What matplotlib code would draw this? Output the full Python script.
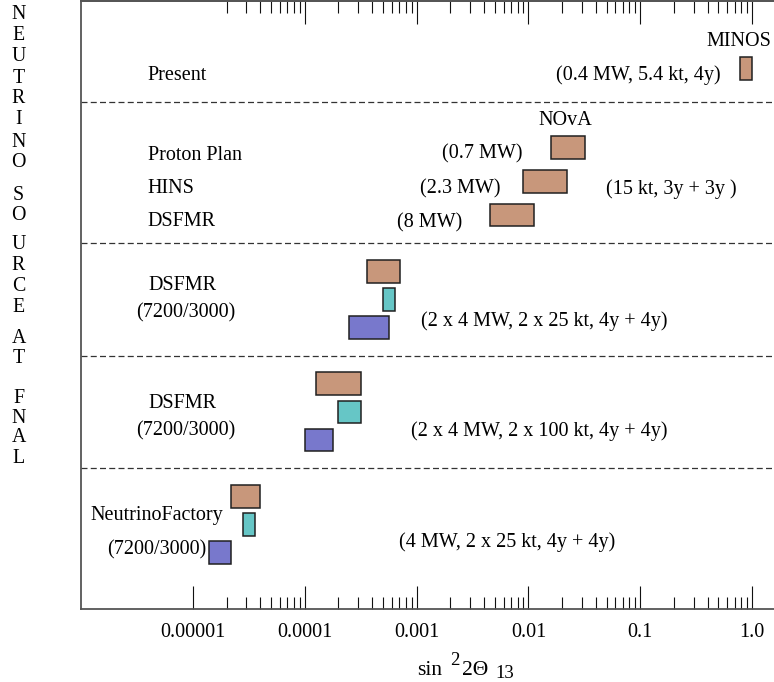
import matplotlib
matplotlib.use("Agg")
import matplotlib.pyplot as plt
from matplotlib.ticker import NullFormatter

plt.rcParams['font.family'] = ['Liberation Serif', 'DejaVu Serif']

# ---------------- data ----------------
# sin^2 2theta13 sensitivity ranges (low, high) for each box
box_low = [0.78, 0.016, 0.009, 0.0045,
           3.6e-4, 5.0e-4, 2.5e-4,
           1.26e-4, 2.0e-4, 1.0e-4,
           2.2e-5, 2.8e-5, 1.4e-5]
box_high = [1.0, 0.032, 0.022, 0.0113,
            7.1e-4, 6.4e-4, 5.7e-4,
            3.2e-4, 3.2e-4, 1.8e-4,
            4.0e-5, 3.6e-5, 2.2e-5]
box_kind = ['b', 'b', 'b', 'b',
            'b', 'c', 'p',
            'b', 'c', 'p',
            'b', 'c', 'p']
tick_values = [1e-5, 1e-4, 1e-3, 1e-2, 1e-1, 1.0]
tick_labels = ['0.00001', '0.0001', '0.001', '0.01', '0.1', '1.0']
side_letters = list("NEUTRINOSOURCEATFNAL")

# ---------------- layout / style ----------------
W, H = 774, 682
row_y = [67.7, 146.3, 180.3, 214.0,
         270.3, 298.3, 326.3,
         382.7, 411.0, 439.0,
         495.3, 523.3, 551.3]
box_h = 22.7
sep_y = [101, 241.7, 354.7, 467]
colors = {'b': '#c8977b', 'c': '#66c6c6', 'p': '#7878cc'}
FS = 14.5

fig = plt.figure(figsize=(W / 100, H / 100), dpi=100)
x_left, x_dec = 81.2, 111.8
ax = fig.add_axes([x_left / W, 73 / H, (774.4 - x_left) / W, 608 / H])
ax.set_xscale('log')
ax.set_xlim(1e-6, 10 ** 0.2)
ax.set_ylim(608, 0)


def px2x(px):
    return 10 ** (-6 + (px - x_left) / x_dec)


def py(p):
    return p - 1


widths = [h - l for l, h in zip(box_low, box_high)]
ax.barh(row_y, widths, left=box_low, height=box_h,
        color=[colors[k] for k in box_kind],
        edgecolor='#202020', linewidth=1.1, zorder=3)

for y in sep_y:
    ax.axhline(y, color='#333333', lw=0.9, ls=(0, (4.8, 2.6)), zorder=1)

# ticks
minor = [m * d for d in [1e-5, 1e-4, 1e-3, 1e-2, 1e-1] for m in range(2, 10)]
ax.set_xticks(tick_values, tick_labels)
ax.set_xticks(minor, minor=True)
ax.xaxis.set_minor_formatter(NullFormatter())
ax.set_yticks([])
ax.tick_params(axis='x', which='major', direction='in', length=16.5,
               width=0.8, pad=10, labelsize=FS, color='#111111')
ax.tick_params(axis='x', which='minor', direction='in', length=8.6,
               width=0.8, color='#111111')
sec = ax.secondary_xaxis('top')
sec.set_xticks(tick_values[1:], [''] * 5)
sec.set_xticks(minor, minor=True)
sec.xaxis.set_minor_formatter(NullFormatter())
sec.tick_params(axis='x', which='major', direction='in', length=16.5,
                width=0.8, color='#111111')
sec.tick_params(axis='x', which='minor', direction='in', length=8.6,
                width=0.8, color='#111111')
for s in ['left', 'bottom', 'top']:
    ax.spines[s].set_linewidth(1.3)
    ax.spines[s].set_color('#555555')
ax.spines['right'].set_visible(False)
sec.spines['top'].set_linewidth(1.3)
sec.spines['top'].set_color('#555555')

# texts: (text, px_x, baseline_px, ha)
texts = [
    ("Present", 147.7, 80, 'left'),
    ("Proton Plan", 147.7, 159.7, 'left'),
    ("HINS", 147.7, 193, 'left'),
    ("DSFMR", 147.7, 226, 'left'),
    ("MINOS", 706, 46.3, 'left'),
    ("(0.4 MW, 5.4 kt, 4y)", 555.7, 80, 'left'),
    ("NOvA", 538.7, 125.3, 'left'),
    ("(0.7 MW)", 522.7, 158.7, 'right'),
    ("(2.3 MW)", 500.7, 193.7, 'right'),
    ("(15 kt, 3y + 3y )", 606, 193.7, 'left'),
    ("(8 MW)", 462.7, 227, 'right'),
    ("DSFMR", 148, 290.3, 'left'),
    ("(7200/3000)", 136, 317.7, 'left'),
    ("(2 x 4 MW, 2 x 25 kt, 4y + 4y)", 421, 326, 'left'),
    ("DSFMR", 148, 408, 'left'),
    ("(7200/3000)", 136, 435.3, 'left'),
    ("(2 x 4 MW, 2 x 100 kt, 4y + 4y)", 410.7, 436.3, 'left'),
    ("NeutrinoFactory", 90.3, 519.7, 'left'),
    ("(7200/3000)", 107, 554.3, 'left'),
    ("(4 MW, 2 x 25 kt, 4y + 4y)", 399, 547, 'left'),
]
for t, x, yb, ha in texts:
    ax.text(px2x(x), py(yb), t, ha=ha, va='baseline', fontsize=FS, zorder=4)

# vertical side title
letter_y = [12.7, 33.3, 54.3, 76, 96.7, 117.3, 140, 160.7,
            193.3, 213.3, 242, 263.3, 284.3, 305,
            336, 356.7,
            396.7, 416.7, 435.7, 456.7]
for ch, y in zip(side_letters, letter_y):
    fig.text(18.5 / W, 1 - (y + 6.6) / H, ch, ha='center', va='baseline',
             fontsize=14.3)

# x label pieces
fig.text(416.7 / W, 1 - 675 / H, "sin", ha='left', va='baseline', fontsize=15.5)
fig.text(450 / W, 1 - 665 / H, "2", ha='left', va='baseline', fontsize=13.5)
fig.text(461.7 / W, 1 - 675 / H, "2\u0398", ha='left', va='baseline', fontsize=15.5)
fig.text(495 / W, 1 - 678.5 / H, "13", ha='left', va='baseline', fontsize=13.5)

fig.savefig('out.png', dpi=100)
